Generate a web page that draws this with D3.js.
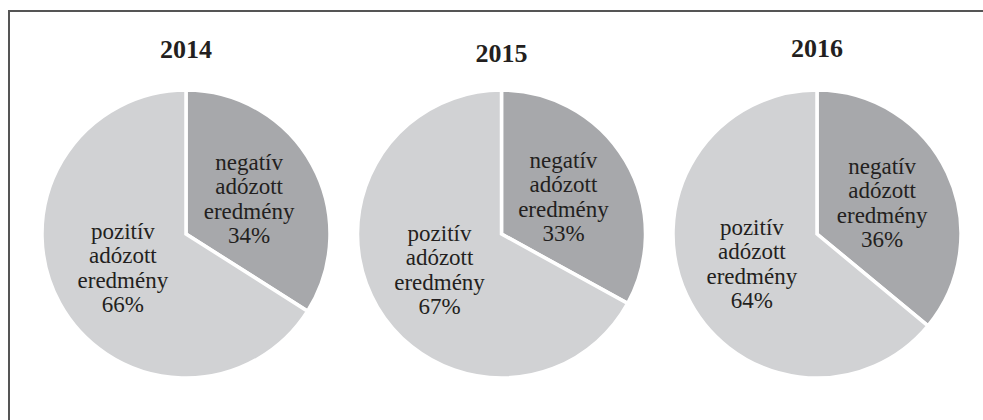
<!DOCTYPE html>
<html>
<head>
<meta charset="utf-8">
<script src="https://cdn.jsdelivr.net/npm/d3@7"></script>
<style>
  html, body { margin: 0; padding: 0; background: #fff; }
  svg { display: block; }
  text.lbl { font-family: 'Liberation Serif'; font-size: 23px; }
</style>
</head>
<body>
<svg id="chart" width="983" height="420"></svg>
<script>
// ---- data ----
const years = ["2014", "2015", "2016"];
const categories = ["negatív adózott eredmény", "pozitív adózott eredmény"];
const negativeShare = [34, 33, 36];
const positiveShare = [66, 67, 64];

// ---- layout / style ----
const W = 983, H = 420;
const radius = 144;
const centerY = 234;
const colors = ["#a7a8ab", "#d1d2d4"];
const textColor = "#231f20";
const serif = "'Liberation Serif'";

const svg = d3.select("#chart");

// frame (only top and left edges visible in the crop)
svg.append("rect")
  .attr("x", 9).attr("y", 11)
  .attr("width", W + 20).attr("height", H + 20)
  .attr("fill", "none")
  .attr("stroke", "#555")
  .attr("stroke-width", 2);

const xScale = d3.scalePoint()
  .domain(years)
  .range([186, 817]);

const titleBaseline = { "2014": 58, "2015": 62, "2016": 57 };

const pie = d3.pie().sort(null).value(d => d.value);
const arc = d3.arc().innerRadius(0).outerRadius(radius);

const labelLayer = [];

years.forEach((yr, i) => {
  const data = [
    { cat: categories[0], value: negativeShare[i] },
    { cat: categories[1], value: positiveShare[i] }
  ];
  const px = xScale(yr);
  const g = svg.append("g")
    .attr("transform", `translate(${px},${centerY})`);

  const arcs = pie(data);

  g.selectAll("path")
    .data(arcs)
    .join("path")
    .attr("d", arc)
    .attr("fill", (d, j) => colors[j])
    .attr("stroke", "#fff")
    .attr("stroke-width", 3.5)
    .attr("stroke-linejoin", "miter");

  const lh = 24.5;
  arcs.forEach(d => {
    const [cx, cy] = arc.centroid(d);
    const words = d.data.cat.split(" ");
    const lines = [...words, d.data.value + "%"];
    lines.forEach((ln, k) => {
      labelLayer.push({
        x: px + cx,
        y: centerY + cy + 7 + (k - (lines.length - 1) / 2) * lh,
        text: ln
      });
    });
  });

  // title
  svg.append("text")
    .attr("x", px)
    .attr("y", titleBaseline[yr])
    .attr("text-anchor", "middle")
    .style("font-family", serif)
    .style("font-weight", "bold")
    .style("font-size", "26px")
    .attr("fill", textColor)
    .text(yr);
});

// labels drawn directly on the svg
labelLayer.forEach(l => {
  svg.append("text")
    .attr("class", "lbl")
    .attr("x", l.x)
    .attr("y", l.y)
    .attr("text-anchor", "middle")
    .attr("font-family", "Liberation Serif")
    .attr("font-size", 23)
    .style("font-family", serif)
    .style("font-size", "23px")
    .style("font-weight", "normal")
    .attr("fill", textColor)
    .text(l.text);
});
</script>
</body>
</html>
